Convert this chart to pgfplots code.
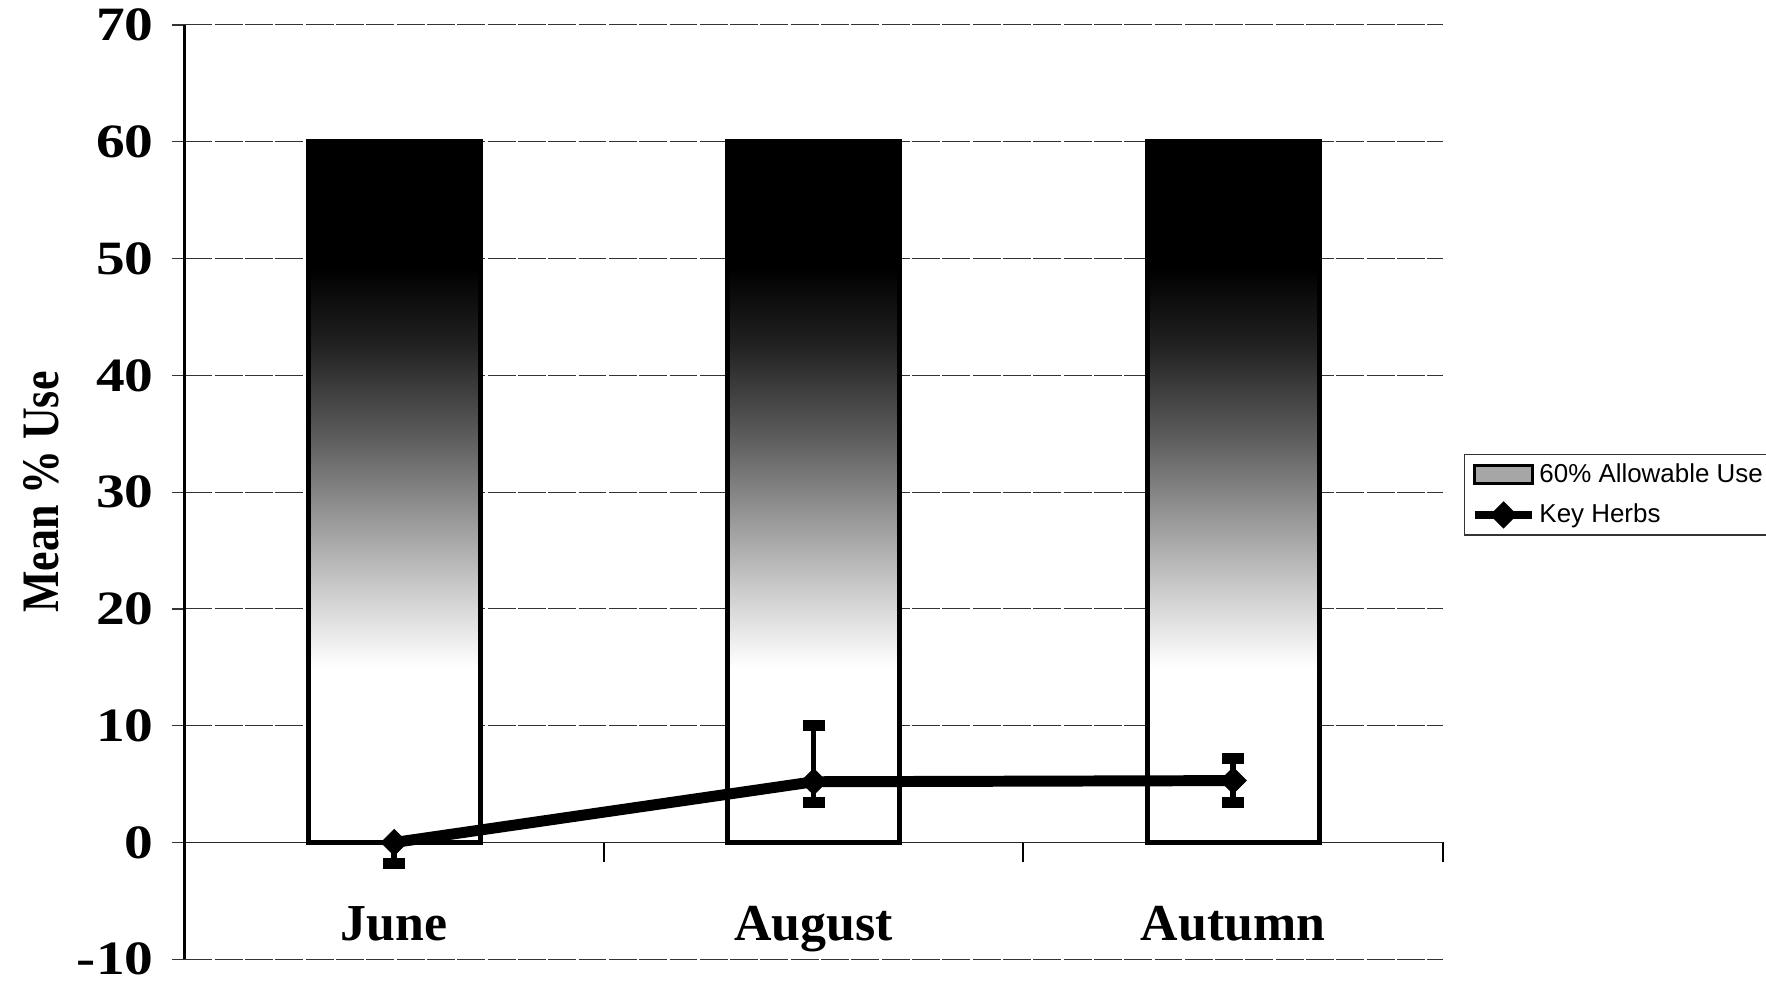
\documentclass[border=0pt]{standalone}
\usepackage{pgfplots}
\pgfplotsset{compat=1.18}
\usepackage{fontspec}
\setmainfont{Liberation Serif}
\newfontfamily\legfont{Liberation Sans}
\pgfdeclareverticalshading{barshade}{100bp}{color(0bp)=(white); color(25bp)=(white); color(37.5bp)=(white); color(43bp)=(black!20); color(48bp)=(black!40); color(54bp)=(black!64); color(60.5bp)=(black!87); color(66bp)=(black); color(100bp)=(black)}
\pgfplotsset{
  barleg/.style={legend image code/.code={\pgfsetlinewidth{1.5pt}\pgfsetstrokecolor{black}\pgfsetfillcolor{black!35}\pgfpathrectangle{\pgfpoint{0pt}{-4.5pt}}{\pgfpoint{29pt}{9pt}}\pgfusepath{fill,stroke}}},
  lineleg/.style={legend image code/.code={\draw[mark repeat=2,mark phase=2,##1,line width=4pt] plot coordinates {(0pt,0pt) (14.5pt,0pt) (29pt,0pt)};}},
}
\begin{document}
\begin{tikzpicture}
\useasboundingbox (-92.5pt,-12.4pt) rectangle (793pt,481pt);
\begin{axis}[
  at={(0pt,0pt)}, anchor=south west,
  scale only axis, width=631pt, height=468.5pt,
  xmin=-0.5, xmax=2.5, ymin=-10, ymax=70,
  axis x line=middle, axis y line=left,
  axis line style={-},
  x axis line style={-, black!85, line width=0.9pt},
  y axis line style={-, black, line width=1.3pt},
  xtick={0,1,2},
  xticklabels={June,August,Autumn},
  minor xtick={0.5,1.5,2.5},
  ytick={-10,0,10,20,30,40,50,60,70},
  yticklabels={-10,0,10,20,30,40,50,60,70},
  tick align=outside,
  major tick length=6.5pt,
  minor tick length=10pt,
  major x tick style={draw=none},
  minor x tick style={black, line width=1pt},
  ytick style={black!80, line width=0.6pt},
  ymajorgrids,
  grid style={black!80, line width=0.55pt, dash pattern=on 14pt off 1.2pt},
  yticklabel style={font=\bfseries\fontsize{24}{24}\selectfont, inner ysep=0pt, xscale=1.2, xshift=-4pt},
  xticklabel style={font=\bfseries\fontsize{26}{26}\selectfont, yshift=-22pt},
  every axis y label/.style={at={(rel axis cs:-0.1141,0.5)}, rotate=90, yscale=1.2, anchor=center, font=\bfseries\fontsize{22}{22}\selectfont},
  ylabel={Mean \% Use},
  legend style={at={(1.01664,0.54109)}, anchor=north west, draw=black!80, line width=0.8pt,
    font=\legfont\fontsize{13}{15}\selectfont, inner xsep=3pt, inner ysep=1.5pt, row sep=3.4pt,
    nodes={inner xsep=1.5pt, inner ysep=3pt}},
  legend cell align=left,
]
\addplot[ybar, bar width=0.41, draw=black, line width=2.4pt, shading=barshade, barleg]
  coordinates {(0,60) (1,60) (2,60)};
\addlegendentry{60\% Allowable Use}
\addplot[forget plot, draw=none, mark=none,
  error bars/.cd, y dir=minus, y explicit,
  error bar style={draw=black, line width=2.8pt},
  error mark options={draw=black, rotate=90, mark size=5.5pt, line width=5.5pt}]
  coordinates {(0,0) -= (0,1.8)};
\addplot[forget plot, draw=none, mark=none,
  error bars/.cd, y dir=both, y explicit,
  error bar style={draw=black, line width=2.8pt},
  error mark options={draw=black, rotate=90, mark size=5.5pt, line width=5.5pt}]
  coordinates {(1,5.2) += (0,4.8) -= (0,1.8) (2,5.3) += (0,1.9) -= (0,1.85)};
\addplot[black, line width=5.5pt, mark=square*, mark size=4.6pt,
  mark options={solid, rotate=45, line width=0.5pt, fill=black}, lineleg]
  coordinates {(0,0) (1,5.2) (2,5.3)};
\addlegendentry{Key Herbs}
\end{axis}
\end{tikzpicture}
\end{document}
